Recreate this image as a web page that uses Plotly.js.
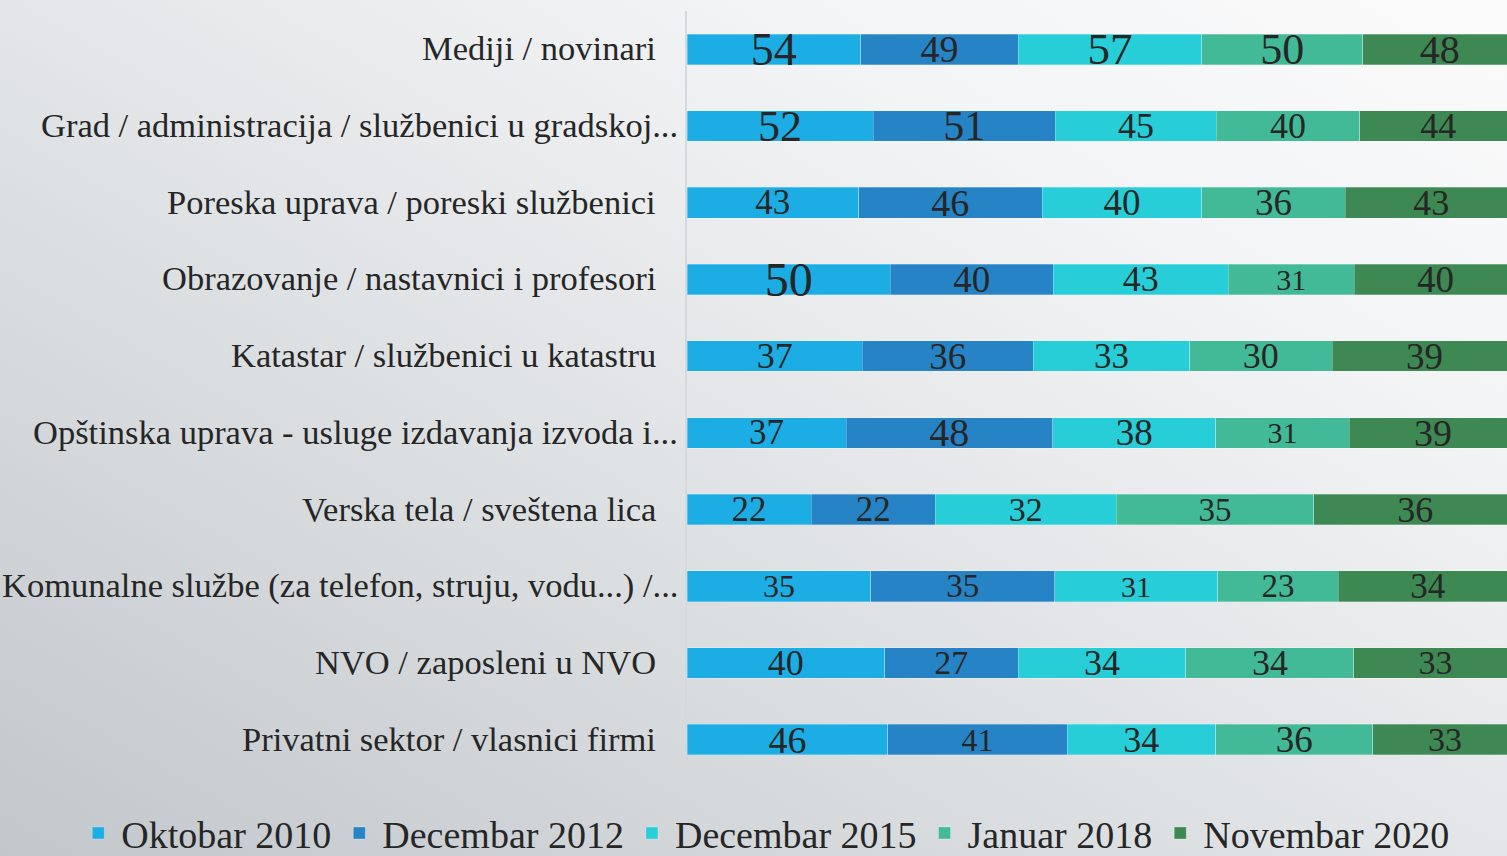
<!DOCTYPE html>
<html>
<head>
<meta charset="utf-8">
<script src="https://cdn.plot.ly/plotly-3.0.1.min.js"></script>
<style>
html, body { margin: 0; padding: 0; width: 1507px; height: 856px; overflow: hidden; }
body { background: linear-gradient(to top right, #c2c7cb 0%, #dde0e3 40%, #f3f4f5 75%, #fbfbfc 100%); }
#chart { width: 1507px; height: 856px; }
</style>
</head>
<body>
<div id="chart"></div>
<script>
const categories = [
  "Mediji / novinari",
  "Grad / administracija / službenici u gradskoj...",
  "Poreska uprava / poreski službenici",
  "Obrazovanje / nastavnici i profesori",
  "Katastar / službenici u katastru",
  "Opštinska uprava - usluge izdavanja izvoda i...",
  "Verska tela / sveštena lica",
  "Komunalne službe (za telefon, struju, vodu...) /...",
  "NVO / zaposleni u NVO",
  "Privatni sektor / vlasnici firmi"
];
const seriesNames = ["Oktobar 2010", "Decembar 2012", "Decembar 2015", "Januar 2018", "Novembar 2020"];
const oktobar2010   = [54, 52, 43, 50, 37, 37, 22, 35, 40, 46];
const decembar2012  = [49, 51, 46, 40, 36, 48, 22, 35, 27, 41];
const decembar2015  = [57, 45, 40, 43, 33, 38, 32, 31, 34, 34];
const januar2018    = [50, 40, 36, 31, 30, 31, 35, 23, 34, 36];
const novembar2020  = [48, 44, 43, 40, 39, 39, 36, 34, 33, 33];

// styling
const colors = ["#1CADE4", "#2683C6", "#27CED7", "#42BA97", "#3E8853"];
const labelSizes = [
  [46, 44, 35, 48, 36, 35, 35, 32, 36, 38],
  [38, 42, 38, 37, 37, 40, 35, 33, 34, 32],
  [45, 36, 37, 36, 35, 37, 34, 30, 36, 36],
  [44, 36, 37, 30, 36, 30, 33, 33, 36, 37],
  [40, 36, 36, 37, 37, 38, 36, 35, 34, 34]
];
// category label horizontal offsets (px from plot's left edge)
const catShift = [-29, -7, -29, -29, -29, -7, -29, -7, -29, -29];

const allSeries = [oktobar2010, decembar2012, decembar2015, januar2018, novembar2020];
const FONT = "'Liberation Serif', 'DejaVu Serif', serif";

const traces = allSeries.map((vals, i) => ({
  type: 'bar',
  orientation: 'h',
  name: seriesNames[i],
  y: categories,
  x: vals,
  text: vals.map(String),
  textposition: 'inside',
  insidetextanchor: 'middle',
  constraintext: 'none',
  textangle: 0,
  textfont: { family: FONT, size: labelSizes[i], color: '#262626' },
  marker: { color: colors[i], line: { color: 'rgba(255,255,255,0.45)', width: 0.6 } },
  hoverinfo: 'skip'
}));

const annotations = categories.map((c, k) => ({
  text: c,
  xref: 'paper',
  yref: 'y',
  x: 0,
  y: c,
  xanchor: 'right',
  yanchor: 'middle',
  xshift: catShift[k],
  yshift: 1,
  showarrow: false,
  font: { family: FONT, size: 34.5, color: '#262626' }
}));

const layout = {
  width: 1507,
  height: 856,
  barmode: 'stack',
  barnorm: 'percent',
  bargap: 0.6,
  paper_bgcolor: 'rgba(0,0,0,0)',
  plot_bgcolor: 'rgba(0,0,0,0)',
  margin: { l: 687, r: 0, t: 11, b: 78, pad: 0, autoexpand: false },
  font: { family: FONT, color: '#262626' },
  xaxis: {
    range: [0, 98.8],
    showgrid: false,
    zeroline: false,
    showticklabels: false,
    showline: false,
    fixedrange: true
  },
  yaxis: {
    autorange: 'reversed',
    showgrid: false,
    zeroline: false,
    showline: true,
    linecolor: '#d6d9dc',
    linewidth: 2,
    showticklabels: false,
    ticks: '',
    fixedrange: true
  },
  annotations: annotations,
  showlegend: true,
  legend: {
    orientation: 'h',
    xref: 'paper',
    yref: 'paper',
    x: -0.746,
    xanchor: 'left',
    y: -0.031,
    yanchor: 'top',
    font: { family: FONT, size: 38, color: '#262626' },
    bgcolor: 'rgba(0,0,0,0)',
    traceorder: 'normal',
    itemwidth: 36
  }
};

Plotly.newPlot('chart', traces, layout, { displayModeBar: false, staticPlot: true });
</script>
</body>
</html>
